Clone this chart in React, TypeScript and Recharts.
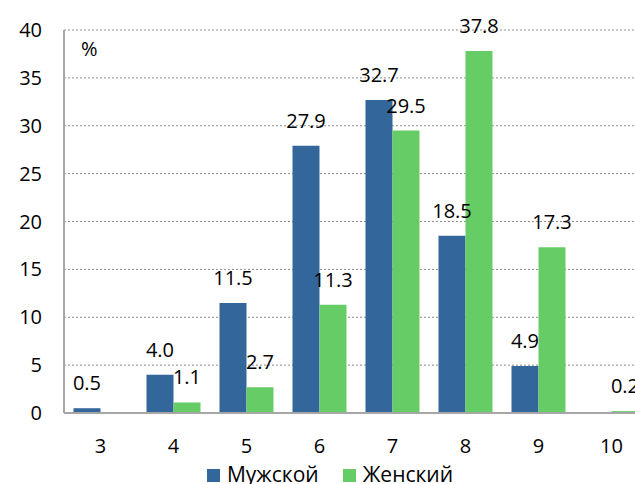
import { BarChart, Bar, XAxis, YAxis, CartesianGrid, Legend, LabelList } from "recharts";

const grades = ["3", "4", "5", "6", "7", "8", "9", "10"];
const maleShare = [0.5, 4.0, 11.5, 27.9, 32.7, 18.5, 4.9, null];
const femaleShare = [null, 1.1, 2.7, 11.3, 29.5, 37.8, 17.3, 0.2];
const yTicks = [0, 5, 10, 15, 20, 25, 30, 35, 40];
const seriesNames = ["Мужской", "Женский"];
const seriesColors = ["#33669a", "#66cc66"];

const rows = grades.map((g, i) => ({
  grade: g,
  male: maleShare[i],
  female: femaleShare[i],
}));

const font = "'Open Sans', sans-serif";

const fmt = (v: any) => (v == null ? "" : Number(v).toFixed(1));

// legend drawn by hand so the order stays male, female
const LegendBox = () => (
  <div style={{ display: "flex", justifyContent: "center", alignItems: "center", fontFamily: font, fontSize: 21, color: "#000", lineHeight: "28px" }}>
    {seriesNames.map((n, i) => (
      <div key={n} style={{ display: "flex", alignItems: "center", marginRight: i === 0 ? 24 : 0 }}>
        <span style={{ display: "inline-block", width: 13, height: 13, background: seriesColors[i], marginRight: 7, marginTop: 3 }} />
        <span>{n}</span>
      </div>
    ))}
  </div>
);

const App = () => {
  return (
    <div
      style={{
        position: "fixed",
        left: 0,
        top: 0,
        width: 635,
        height: 484,
        overflow: "hidden",
        background: "#fff",
        fontFamily: font,
      }}
    >
      <BarChart
        width={660}
        height={484}
        data={rows}
        margin={{ top: 30, right: 12, left: 0, bottom: 0 }}
        barCategoryGap="13%"
        barGap={0}
      >
        <CartesianGrid vertical={false} stroke="#8c8c8c" strokeDasharray="2 2" />
        <XAxis
          dataKey="grade"
          axisLine={{ stroke: "#a6a6a6", strokeWidth: 2 }}
          tickLine={false}
          tickMargin={20}
          height={40}
          tick={{ fill: "#000", fontSize: 20, fontFamily: font }}
        />
        <YAxis
          width={64}
          domain={[0, 40]}
          ticks={yTicks}
          axisLine={{ stroke: "#a6a6a6", strokeWidth: 2 }}
          tickLine={false}
          tickMargin={16}
          tick={{ fill: "#000", fontSize: 20, fontFamily: font }}
        />
        <Legend
          verticalAlign="bottom"
          height={31}
          content={<LegendBox />}
          wrapperStyle={{ top: 460, left: 0, width: 660 }}
        />
        <Bar dataKey="male" name={seriesNames[0]} fill={seriesColors[0]} isAnimationActive={false}>
          <LabelList dataKey="male" position="top" offset={18} formatter={fmt} style={{ fill: "#000", fontSize: 20, fontFamily: font }} />
        </Bar>
        <Bar dataKey="female" name={seriesNames[1]} fill={seriesColors[1]} isAnimationActive={false}>
          <LabelList dataKey="female" position="top" offset={18} formatter={fmt} style={{ fill: "#000", fontSize: 20, fontFamily: font }} />
        </Bar>
      </BarChart>
      <div style={{ position: "absolute", left: 81, top: 37, fontSize: 20, color: "#000", lineHeight: "24px" }}>%</div>
    </div>
  );
};

export default App;
